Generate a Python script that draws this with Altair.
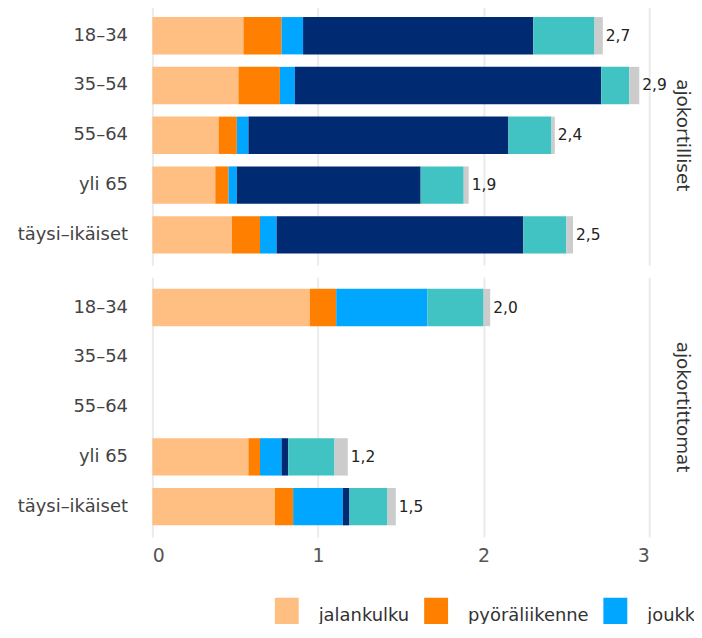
import altair as alt
import pandas as pd

ages = ["18–34", "35–54", "55–64", "yli 65", "täysi–ikäiset"]
groups = ["ajokortilliset", "ajokortittomat"]
series = ["jalankulku", "pyöräliikenne", "joukkoliikenne",
          "henkilöauto, kuljettaja", "henkilöauto, matkustaja", "muu"]
colors = ["#ffbe82", "#ff8000", "#00a6ff", "#002b72", "#41c3c4", "#cccccc"]

# ajokortilliset
with_jalankulku = [0.55, 0.52, 0.40, 0.38, 0.48]
with_pyora = [0.23, 0.25, 0.11, 0.08, 0.17]
with_joukko = [0.13, 0.09, 0.07, 0.05, 0.10]
with_auto_k = [1.39, 1.85, 1.57, 1.11, 1.49]
with_auto_m = [0.37, 0.17, 0.26, 0.26, 0.26]
with_muu = [0.05, 0.06, 0.02, 0.03, 0.04]

# ajokortittomat (no data for 35–54, 55–64)
wo_jalankulku = [0.95, None, None, 0.58, 0.74]
wo_pyora = [0.16, None, None, 0.07, 0.11]
wo_joukko = [0.55, None, None, 0.13, 0.30]
wo_auto_k = [0.00, None, None, 0.04, 0.04]
wo_auto_m = [0.34, None, None, 0.28, 0.23]
wo_muu = [0.04, None, None, 0.08, 0.05]

table = {
    "ajokortilliset": [with_jalankulku, with_pyora, with_joukko, with_auto_k, with_auto_m, with_muu],
    "ajokortittomat": [wo_jalankulku, wo_pyora, wo_joukko, wo_auto_k, wo_auto_m, wo_muu],
}

rows = []
for g in groups:
    for si, (s, vals) in enumerate(zip(series, table[g])):
        for a, v in zip(ages, vals):
            if v is not None:
                rows.append({"group": g, "age": a, "series": s, "order": si, "value": v})
df = pd.DataFrame(rows)

FONT = "DejaVu Sans"

y_enc = alt.Y("age:N", title=None,
              scale=alt.Scale(domain=ages, paddingInner=0.25, paddingOuter=0.235))

bars = alt.Chart().mark_bar().encode(
    x=alt.X("sum(value):Q", title=None,
            scale=alt.Scale(domain=[0, 3], nice=False),
            axis=alt.Axis(values=[0, 1, 2, 3], format="d")),
    y=y_enc,
    color=alt.Color("series:N",
                    scale=alt.Scale(domain=series, range=colors),
                    legend=alt.Legend(title=None, orient="none", direction="horizontal",
                                      legendX=123, legendY=601, padding=0,
                                      values=series[:3],
                                      symbolType="M-1,-1.5H1V1.5H-1Z", symbolSize=576,
                                      symbolStrokeWidth=0, symbolOpacity=1,
                                      labelFontSize=18, labelFont=FONT, labelColor="#333",
                                      labelOffset=20, columnPadding=14, labelLimit=400)),
    order=alt.Order("order:Q", sort="ascending"),
)

labels = alt.Chart().transform_aggregate(
    total="sum(value)", groupby=["group", "age"]
).transform_calculate(
    label="replace(format(datum.total, '.1f'), '.', ',')"
).mark_text(align="left", baseline="middle", dx=3, fontSize=15.5, font=FONT, color="#222").encode(
    x=alt.X("total:Q"),
    y=y_enc,
    text="label:N",
)

chart = alt.layer(bars, labels, data=df).properties(
    width=499, height=261
).facet(
    row=alt.Row("group:N", sort=groups,
                header=alt.Header(title=None, labelOrient="right", labelAngle=90,
                                  labelFontSize=18.5, labelFont=FONT, labelColor="#333",
                                  labelPadding=6)),
    spacing=12,
).properties(
    padding={"left": 9, "top": -4, "right": -82, "bottom": -11}
).configure_view(
    stroke=None
).configure_axisX(
    grid=True, gridColor="#ebebeb", gridWidth=2, domain=False, ticks=False, tickSize=0,
    labelFontSize=19, labelFont=FONT, labelColor="#555", labelPadding=10,
).configure_axisY(
    grid=False, domain=False, ticks=False, tickSize=0,
    labelFontSize=18, labelFont=FONT, labelColor="#444", labelPadding=25,
)

chart.save("out.html", embed_options={"renderer": "svg", "actions": False})
